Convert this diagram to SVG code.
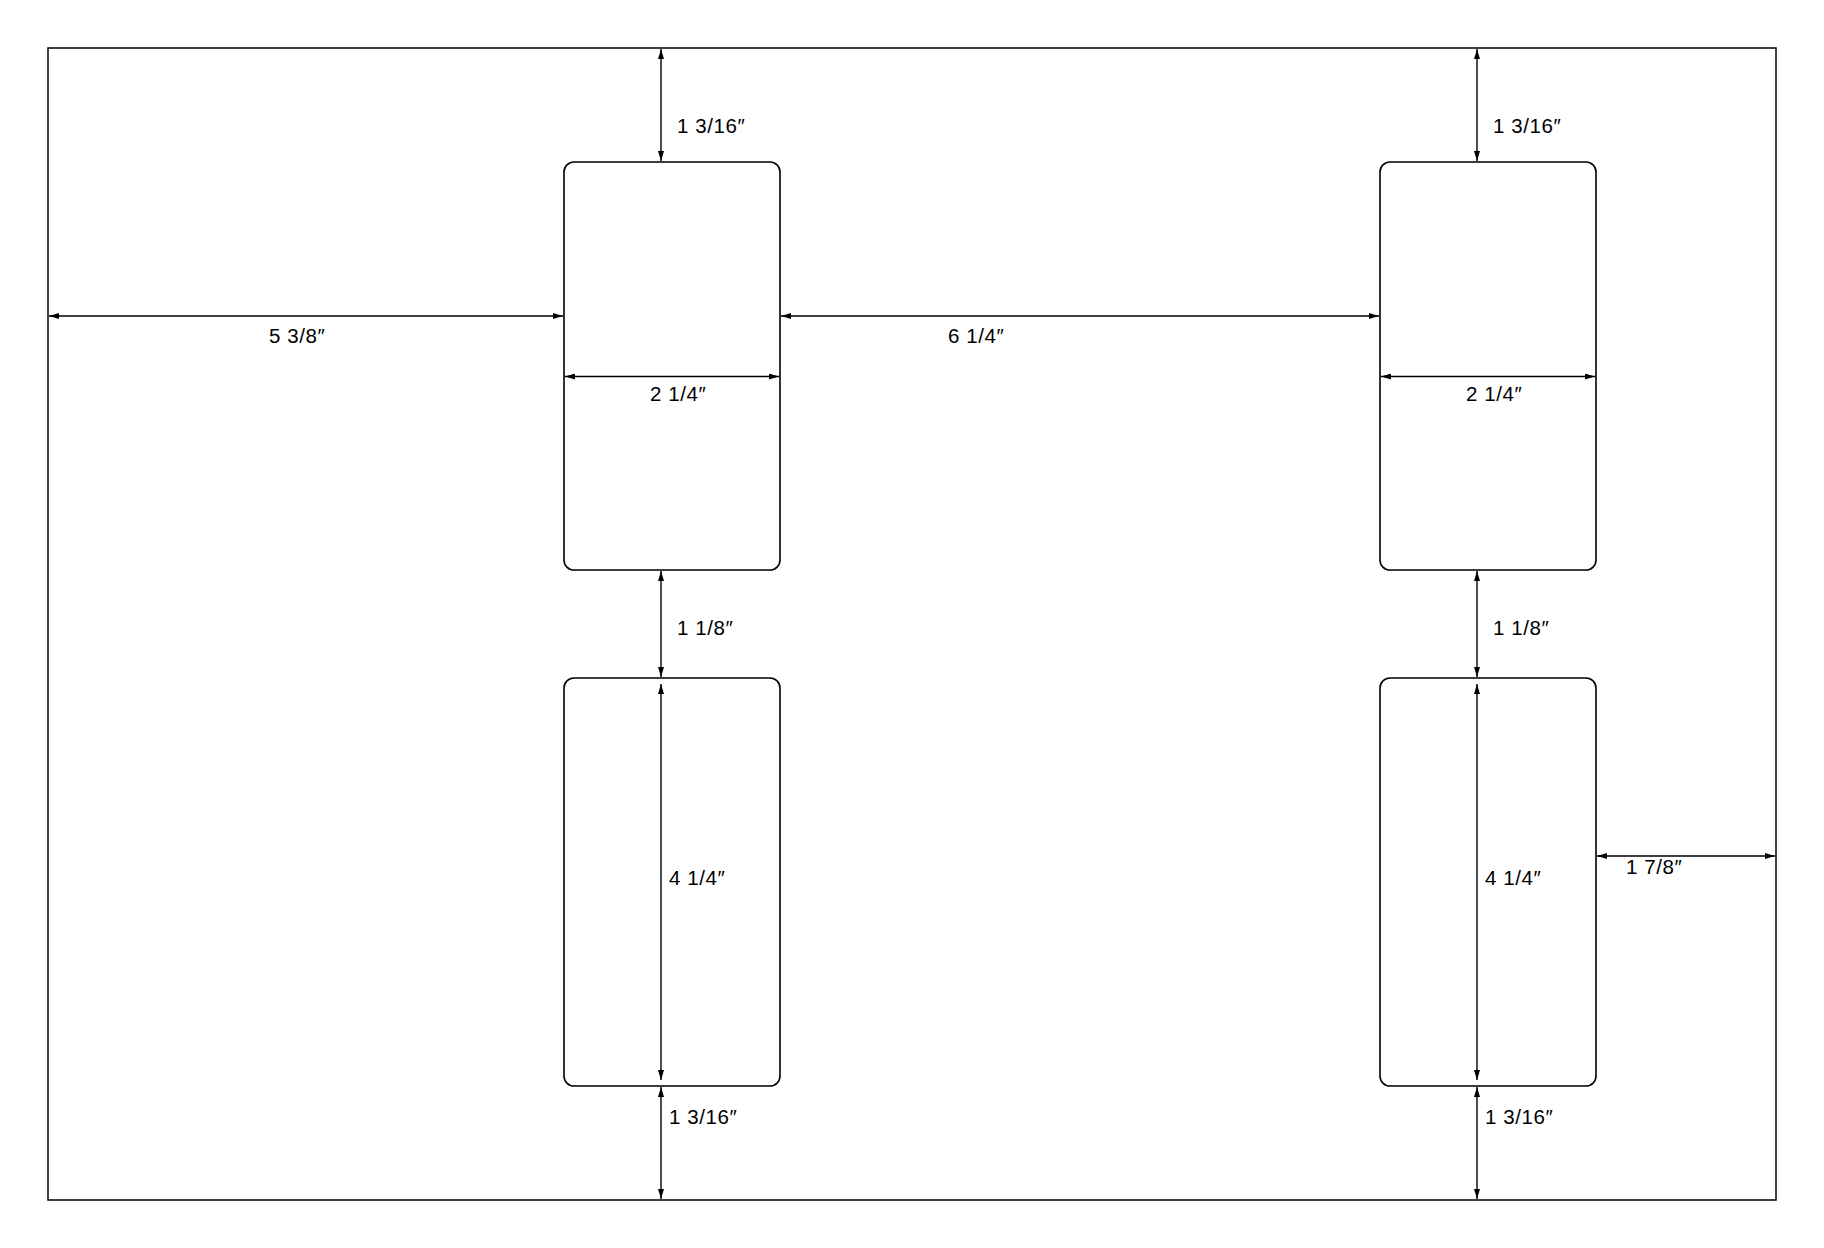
<svg xmlns="http://www.w3.org/2000/svg" width="1824" height="1248" viewBox="0 0 1824 1248">
<defs>
<marker id="ah" viewBox="0 0 10 6" refX="10" refY="3" markerWidth="10" markerHeight="6" markerUnits="userSpaceOnUse" orient="auto-start-reverse">
<path d="M0,0 L10,3 L0,6 Z" fill="#000"/>
</marker>
</defs>
<style>
.frame{fill:none;stroke:#000;stroke-width:1.5}
.box{fill:none;stroke:#000;stroke-width:1.6}
.dim{fill:none;stroke:#000;stroke-width:1.4;marker-start:url(#ah);marker-end:url(#ah)}
.lbl{font-family:"Liberation Sans",Arial,sans-serif;font-size:20.5px;fill:#000;letter-spacing:0.6px}
</style>
<rect width="1824" height="1248" fill="#fff"/>
<g id="sheet"><rect class="frame" x="48" y="48" width="1728" height="1152"/></g>
<g id="box-top-left"><rect class="box" x="564" y="162" width="216" height="408" rx="10"/></g>
<g id="box-top-right"><rect class="box" x="1380" y="162" width="216" height="408" rx="10"/></g>
<g id="box-bottom-left"><rect class="box" x="564" y="678" width="216" height="408" rx="10"/></g>
<g id="box-bottom-right"><rect class="box" x="1380" y="678" width="216" height="408" rx="10"/></g>
<g id="connectors">
<line class="dim" x1="661" y1="49" x2="661" y2="161"/>
<line class="dim" x1="1477" y1="49" x2="1477" y2="161"/>
<line class="dim" x1="49" y1="316" x2="563" y2="316"/>
<line class="dim" x1="781" y1="316" x2="1379" y2="316"/>
<line class="dim" x1="565" y1="376.5" x2="779" y2="376.5"/>
<line class="dim" x1="1381" y1="376.5" x2="1595" y2="376.5"/>
<line class="dim" x1="661" y1="571" x2="661" y2="677"/>
<line class="dim" x1="1477" y1="571" x2="1477" y2="677"/>
<line class="dim" x1="661" y1="684" x2="661" y2="1080"/>
<line class="dim" x1="1477" y1="684" x2="1477" y2="1080"/>
<line class="dim" x1="661" y1="1087" x2="661" y2="1199"/>
<line class="dim" x1="1477" y1="1087" x2="1477" y2="1199"/>
<line class="dim" x1="1597" y1="856" x2="1775" y2="856"/>
</g>
<g id="labels">
<text class="lbl" x="677" y="133">1 3/16″</text>
<text class="lbl" x="1493" y="133">1 3/16″</text>
<text class="lbl" x="269" y="343">5 3/8″</text>
<text class="lbl" x="948" y="343">6 1/4″</text>
<text class="lbl" x="650" y="401">2 1/4″</text>
<text class="lbl" x="1466" y="401">2 1/4″</text>
<text class="lbl" x="677" y="635">1 1/8″</text>
<text class="lbl" x="1493" y="635">1 1/8″</text>
<text class="lbl" x="669" y="885">4 1/4″</text>
<text class="lbl" x="1485" y="885">4 1/4″</text>
<text class="lbl" x="669" y="1124">1 3/16″</text>
<text class="lbl" x="1485" y="1124">1 3/16″</text>
<text class="lbl" x="1626" y="874">1 7/8″</text>
</g>
</svg>
